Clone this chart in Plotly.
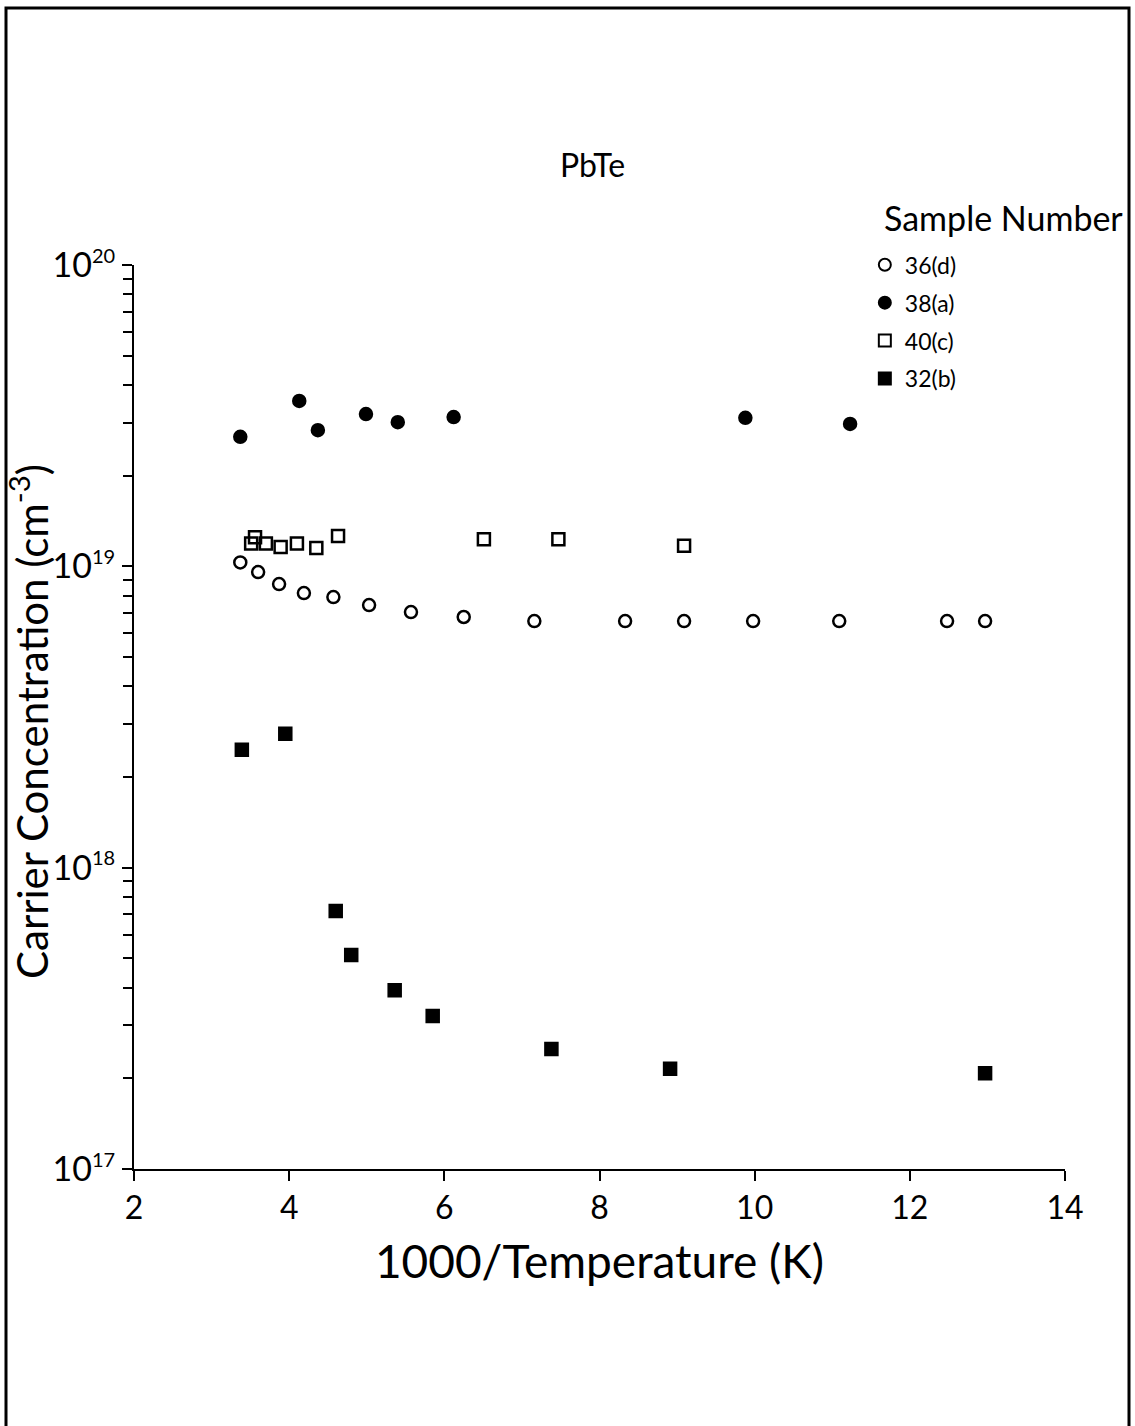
import plotly.graph_objects as go

# 36(d) open circles
x_36d = [3.37, 3.60, 3.87, 4.19, 4.57, 5.03, 5.57, 6.25, 7.16, 8.33, 9.09, 9.98, 11.09, 12.48, 12.97]
y_36d = [1.03e19, 9.57e18, 8.73e18, 8.15e18, 7.91e18, 7.44e18, 7.05e18, 6.79e18, 6.58e18, 6.58e18,
         6.58e18, 6.58e18, 6.58e18, 6.58e18, 6.58e18]

# 38(a) filled circles
x_38a = [3.37, 4.13, 4.37, 4.99, 5.40, 6.12, 9.88, 11.23]
y_38a = [2.69e19, 3.54e19, 2.83e19, 3.20e19, 3.01e19, 3.13e19, 3.11e19, 2.97e19]

# 40(c) open squares
x_40c = [3.51, 3.56, 3.70, 3.89, 4.10, 4.35, 4.63, 6.51, 7.47, 9.09]
y_40c = [1.19e19, 1.25e19, 1.19e19, 1.16e19, 1.19e19, 1.15e19, 1.26e19, 1.23e19, 1.23e19, 1.17e19]

# 32(b) filled squares
x_32b = [3.39, 3.95, 4.60, 4.80, 5.36, 5.85, 7.38, 8.91, 12.97]
y_32b = [2.46e18, 2.78e18, 7.18e17, 5.13e17, 3.92e17, 3.22e17, 2.50e17, 2.15e17, 2.08e17]

x_ticks = [2, 4, 6, 8, 10, 12, 14]
y_exponents = [17, 18, 19, 20]
y_minor_mult = [2, 3, 4, 5, 6, 7, 8, 9]

FONT = "Lato"

y_tickvals = [10.0 ** e for e in y_exponents]
y_ticktext = [f"10<sup><span style='font-size:20px'>{e}</span></sup>" for e in y_exponents]
y_minorvals = [m * 10.0 ** e for e in y_exponents[:-1] for m in y_minor_mult]

fig = go.Figure()
series = [
    ("36(d)", x_36d, y_36d, "circle-open"),
    ("38(a)", x_38a, y_38a, "circle"),
    ("40(c)", x_40c, y_40c, "square-open"),
    ("32(b)", x_32b, y_32b, "square"),
]
for name, xs, ys, sym in series:
    fig.add_trace(go.Scatter(
        x=xs, y=ys, mode="markers", name=name, legendgroup=name,
        marker=dict(symbol=sym, size=12, color="black", line=dict(color="black", width=2.5)),
    ))

fig.update_layout(
    width=1135, height=1426,
    margin=dict(l=134, r=70, t=265, b=257),
    paper_bgcolor="white", plot_bgcolor="white",
    font=dict(family=FONT, color="black"),
    showlegend=True,
    legend=dict(
        x=0.785, y=1.024, xanchor="left", yanchor="top",
        font=dict(size=23, family=FONT), bgcolor="rgba(0,0,0,0)",
        itemsizing="constant", tracegroupgap=5,
    ),
    xaxis=dict(
        range=[2, 14], tickvals=x_ticks, ticks="outside", ticklen=10, tickwidth=2,
        tickcolor="black", showline=True, linecolor="black", linewidth=2,
        showgrid=False, zeroline=False, automargin=False,
        tickfont=dict(size=32, family=FONT),
        title=dict(text="1000/Temperature (K)", font=dict(size=46, family=FONT), standoff=20),
    ),
    yaxis=dict(
        type="log", range=[17, 20], tickvals=y_tickvals, ticktext=y_ticktext,
        ticks="outside", ticklen=10, tickwidth=2, tickcolor="black",
        showline=True, linecolor="black", linewidth=2, showgrid=False, zeroline=False,
        automargin=False,
        tickfont=dict(size=34, family=FONT),
        minor=dict(tickvals=y_minorvals, ticks="outside", ticklen=9, tickwidth=2,
                   tickcolor="black", showgrid=False),
    ),
)

fig.add_annotation(text="Carrier Concentration (cm<sup>-3</sup>)", xref="paper", yref="paper",
                   x=(29 - 134) / 931, y=(1169 - 722) / 904, textangle=-90,
                   showarrow=False, font=dict(size=42, family=FONT), xanchor="center", yanchor="middle")
fig.add_annotation(text="PbTe", xref="paper", yref="paper", x=(592 - 134) / 931, y=(1169 - 165) / 904,
                   showarrow=False, font=dict(size=32, family=FONT), xanchor="center", yanchor="middle")
fig.add_annotation(text="Sample Number", xref="paper", yref="paper", x=(1125 - 134) / 931, y=(1169 - 218) / 904,
                   showarrow=False, font=dict(size=34, family=FONT), xanchor="right", yanchor="middle")

# outer frame
fig.add_shape(type="rect", xref="paper", yref="paper",
              x0=(6 - 134) / 931, x1=(1129 - 134) / 931,
              y0=(1169 - 1440) / 904, y1=(1169 - 8) / 904,
              line=dict(color="black", width=3), fillcolor="rgba(0,0,0,0)", layer="below")

fig.write_html("out.html")
